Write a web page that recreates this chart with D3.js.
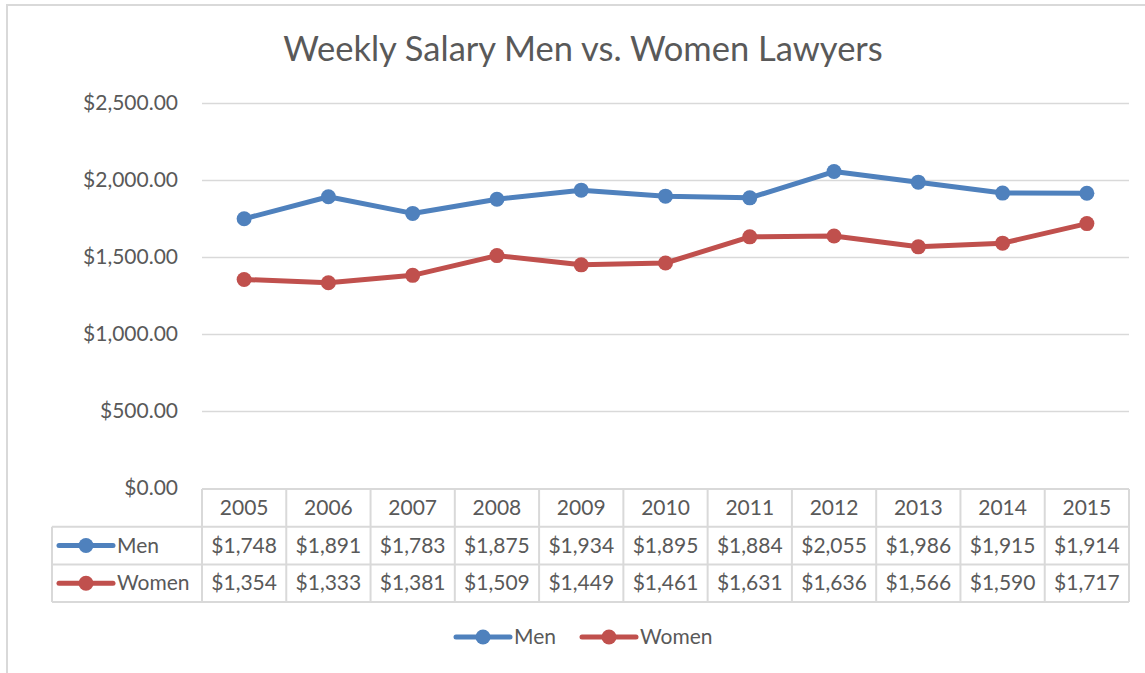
<!DOCTYPE html>
<html lang="en">
<head>
<meta charset="UTF-8">
<title>Weekly Salary Men vs. Women Lawyers</title>
<script src="https://d3js.org/d3.v7.min.js"></script>
<style>
  body { margin: 0; background: #fff; }
  text { font-family: Lato, "Open Sans", sans-serif; fill: #595959; }
</style>
</head>
<body>
<svg id="chart" width="1145" height="673"></svg>
<script>
const years = ["2005", "2006", "2007", "2008", "2009", "2010", "2011", "2012", "2013", "2014", "2015"];
const men = [1748, 1891, 1783, 1875, 1934, 1895, 1884, 2055, 1986, 1915, 1914];
const women = [1354, 1333, 1381, 1509, 1449, 1461, 1631, 1636, 1566, 1590, 1717];
const yTicks = [0, 500, 1000, 1500, 2000, 2500];

const series = [
    {name: "Men", values: men, color: "#4F81BD"},
    {name: "Women", values: women, color: "#C0504D"}
];

const svg = d3.select("#chart");
const plotLeft = 202, plotRight = 1129, plotTop = 103, plotBottom = 488;
const rowH = 37.7;
const fs = "21px";

// chart border
svg.append("rect")
    .attr("x", 7).attr("y", 5)
    .attr("width", 1145).attr("height", 700)
    .attr("fill", "none").attr("stroke", "#d9d9d9").attr("stroke-width", 2);

svg.append("text")
    .attr("x", 583).attr("y", 61)
    .attr("text-anchor", "middle")
    .style("font-size", "34.5px")
    .text("Weekly Salary Men vs. Women Lawyers");

const x = d3.scaleBand().domain(years).range([plotLeft, plotRight]);
const y = d3.scaleLinear().domain([0, 2500]).range([plotBottom, plotTop]);

const fmtAxis = v => "$" + d3.format(",.2f")(v);
const fmtCell = v => "$" + d3.format(",")(v);

// gridlines + y labels
const yAxis = svg.append("g").attr("transform", `translate(${plotLeft},0)`)
    .call(d3.axisLeft(y).tickValues(yTicks).tickFormat(fmtAxis).tickSize(-(plotRight - plotLeft)).tickPadding(24));
yAxis.select(".domain").remove();
yAxis.selectAll(".tick line").attr("stroke", "#d9d9d9").attr("stroke-width", 1.5);
yAxis.selectAll(".tick text")
    .style("font-size", fs).style("font-family", "Lato, 'Open Sans', sans-serif")
    .attr("fill", "#595959");
yAxis.selectAll(".tick").filter(d => d === 0).select("line").remove();

// lines
const line = d3.line()
    .x((d, i) => x(years[i]) + x.bandwidth() / 2)
    .y(d => y(d));

series.forEach(s => {
    svg.append("path")
        .datum(s.values)
        .attr("fill", "none")
        .attr("stroke", s.color)
        .attr("stroke-width", 5)
        .attr("stroke-linejoin", "round")
        .attr("d", line);
    svg.append("g").selectAll("circle")
        .data(s.values)
        .join("circle")
        .attr("cx", (d, i) => x(years[i]) + x.bandwidth() / 2)
        .attr("cy", d => y(d))
        .attr("r", 7.5)
        .attr("fill", s.color);
});

// data table
const grid = svg.append("g").attr("stroke", "#d9d9d9").attr("stroke-width", 2);
const tTop = 489, tLeft = 52;
const tBottom = tTop + rowH * 3;
grid.append("line").attr("x1", plotLeft).attr("x2", plotRight).attr("y1", tTop).attr("y2", tTop);
[1, 2, 3].forEach(r => {
    grid.append("line").attr("x1", tLeft).attr("x2", plotRight)
        .attr("y1", tTop + rowH * r).attr("y2", tTop + rowH * r);
});
grid.append("line").attr("x1", tLeft).attr("x2", tLeft).attr("y1", tTop + rowH).attr("y2", tBottom);
years.forEach(yr => {
    grid.append("line").attr("x1", x(yr)).attr("x2", x(yr)).attr("y1", tTop).attr("y2", tBottom);
});
grid.append("line").attr("x1", plotRight).attr("x2", plotRight).attr("y1", tTop).attr("y2", tBottom);

svg.append("g").selectAll("text")
    .data(years)
    .join("text")
    .attr("x", d => x(d) + x.bandwidth() / 2)
    .attr("y", tTop + rowH / 2 + 7)
    .attr("text-anchor", "middle")
    .style("font-size", fs)
    .text(d => d);

function legendKey(g, cx, cy, color) {
    g.append("line").attr("x1", cx - 27).attr("x2", cx + 27).attr("y1", cy).attr("y2", cy)
        .attr("stroke", color).attr("stroke-width", 5).attr("stroke-linecap", "round");
    g.append("circle").attr("cx", cx).attr("cy", cy).attr("r", 7.5).attr("fill", color);
}

series.forEach((s, r) => {
    const cy = tTop + rowH * (r + 1) + rowH / 2;
    legendKey(svg, 86, cy, s.color);
    svg.append("text").attr("x", 117).attr("y", cy + 7)
        .style("font-size", fs).text(s.name);
    svg.append("g").selectAll("text")
        .data(s.values)
        .join("text")
        .attr("x", (d, i) => x(years[i]) + x.bandwidth() / 2)
        .attr("y", cy + 7)
        .attr("text-anchor", "middle")
        .style("font-size", fs)
        .text(d => fmtCell(d));
});

// bottom legend
const legY = 637;
legendKey(svg, 483, legY, series[0].color);
svg.append("text").attr("x", 514).attr("y", legY + 7).style("font-size", fs).text(series[0].name);
legendKey(svg, 609, legY, series[1].color);
svg.append("text").attr("x", 640).attr("y", legY + 7).style("font-size", fs).text(series[1].name);
</script>
</body>
</html>
